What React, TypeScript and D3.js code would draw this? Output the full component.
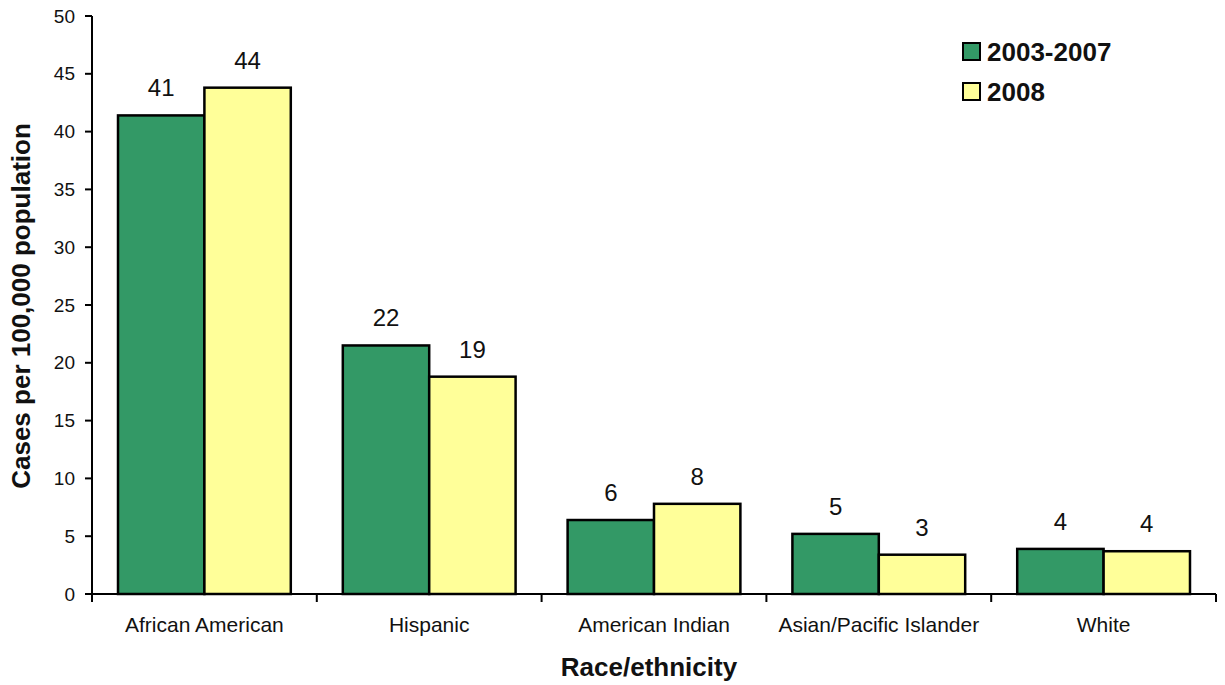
import React from "react";
import * as d3 from "d3";

const categories = ["African American", "Hispanic", "American Indian", "Asian/Pacific Islander", "White"];
const seriesNames = ["2003-2007", "2008"];
const values2003_2007 = [41.4, 21.5, 6.4, 5.2, 3.9];
const values2008 = [43.8, 18.8, 7.8, 3.4, 3.7];
const labels2003_2007 = ["41", "22", "6", "5", "4"];
const labels2008 = ["44", "19", "8", "3", "4"];
const yTicks = [0, 5, 10, 15, 20, 25, 30, 35, 40, 45, 50];
const colors = ["#339966", "#FFFF99"];

export default function App() {
  const W = 1225, H = 685;
  const left = 92, right = 1216, top = 16, bottom = 594;
  const y = d3.scaleLinear().domain([0, 50]).range([bottom, top]);
  const x0 = d3.scaleBand<string>().domain(categories).range([left, right]).padding(0);
  const step = x0.step();
  const pad = step * 0.1157;
  const x1 = d3.scaleBand<string>().domain(seriesNames).range([pad, step - pad]).padding(0);
  const series = [values2003_2007, values2008];
  const labels = [labels2003_2007, labels2008];
  const font = "Arial, 'Liberation Sans', sans-serif";

  return (
    <svg width={W} height={H} style={{ position: "absolute", left: 0, top: 0 }} fontFamily={font}>
      <rect width={W} height={H} fill="#fff" />
      {categories.map((c, i) =>
        seriesNames.map((s, j) => {
          const v = series[j][i];
          const bx = x0(c)! + x1(s)!;
          return (
            <g key={c + s}>
              <rect x={bx} y={y(v)} width={x1.bandwidth()} height={bottom - y(v)} fill={colors[j]} stroke="#000" strokeWidth={2.5} />
              <text x={bx + x1.bandwidth() / 2} y={y(v) - 19} textAnchor="middle" fontSize={24} fill="#111">{labels[j][i]}</text>
            </g>
          );
        })
      )}
      {/* y axis */}
      <line x1={left} x2={left} y1={top} y2={bottom} stroke="#000" strokeWidth={2} />
      {yTicks.map((t) => (
        <g key={t}>
          <line x1={left - 7} x2={left} y1={y(t)} y2={y(t)} stroke="#000" strokeWidth={2} />
          <text x={left - 17} y={y(t)} dy="0.35em" textAnchor="end" fontSize={19} fill="#111">{t}</text>
        </g>
      ))}
      {/* x axis */}
      <line x1={left} x2={right} y1={bottom} y2={bottom} stroke="#000" strokeWidth={2} />
      {categories.map((c) => (
        <line key={"t" + c} x1={x0(c)!} x2={x0(c)!} y1={bottom} y2={bottom + 8} stroke="#000" strokeWidth={2} />
      ))}
      <line x1={right} x2={right} y1={bottom} y2={bottom + 8} stroke="#000" strokeWidth={2} />
      {categories.map((c) => (
        <text key={"l" + c} x={x0(c)! + step / 2} y={632} textAnchor="middle" fontSize={21} fill="#111">{c}</text>
      ))}
      <text x={649} y={676} textAnchor="middle" fontSize={26} fontWeight="bold" fill="#111">Race/ethnicity</text>
      <text transform={`translate(30,306) rotate(-90)`} textAnchor="middle" fontSize={26} fontWeight="bold" fill="#111">Cases per 100,000 population</text>
      {/* legend */}
      {seriesNames.map((s, j) => (
        <g key={"lg" + s} transform={`translate(963,${43 + j * 40})`}>
          <rect x={0} y={0} width={17} height={17} fill={colors[j]} stroke="#000" strokeWidth={2} />
          <text x={24} y={18} fontSize={26} fontWeight="bold" fill="#111">{s}</text>
        </g>
      ))}
    </svg>
  );
}
